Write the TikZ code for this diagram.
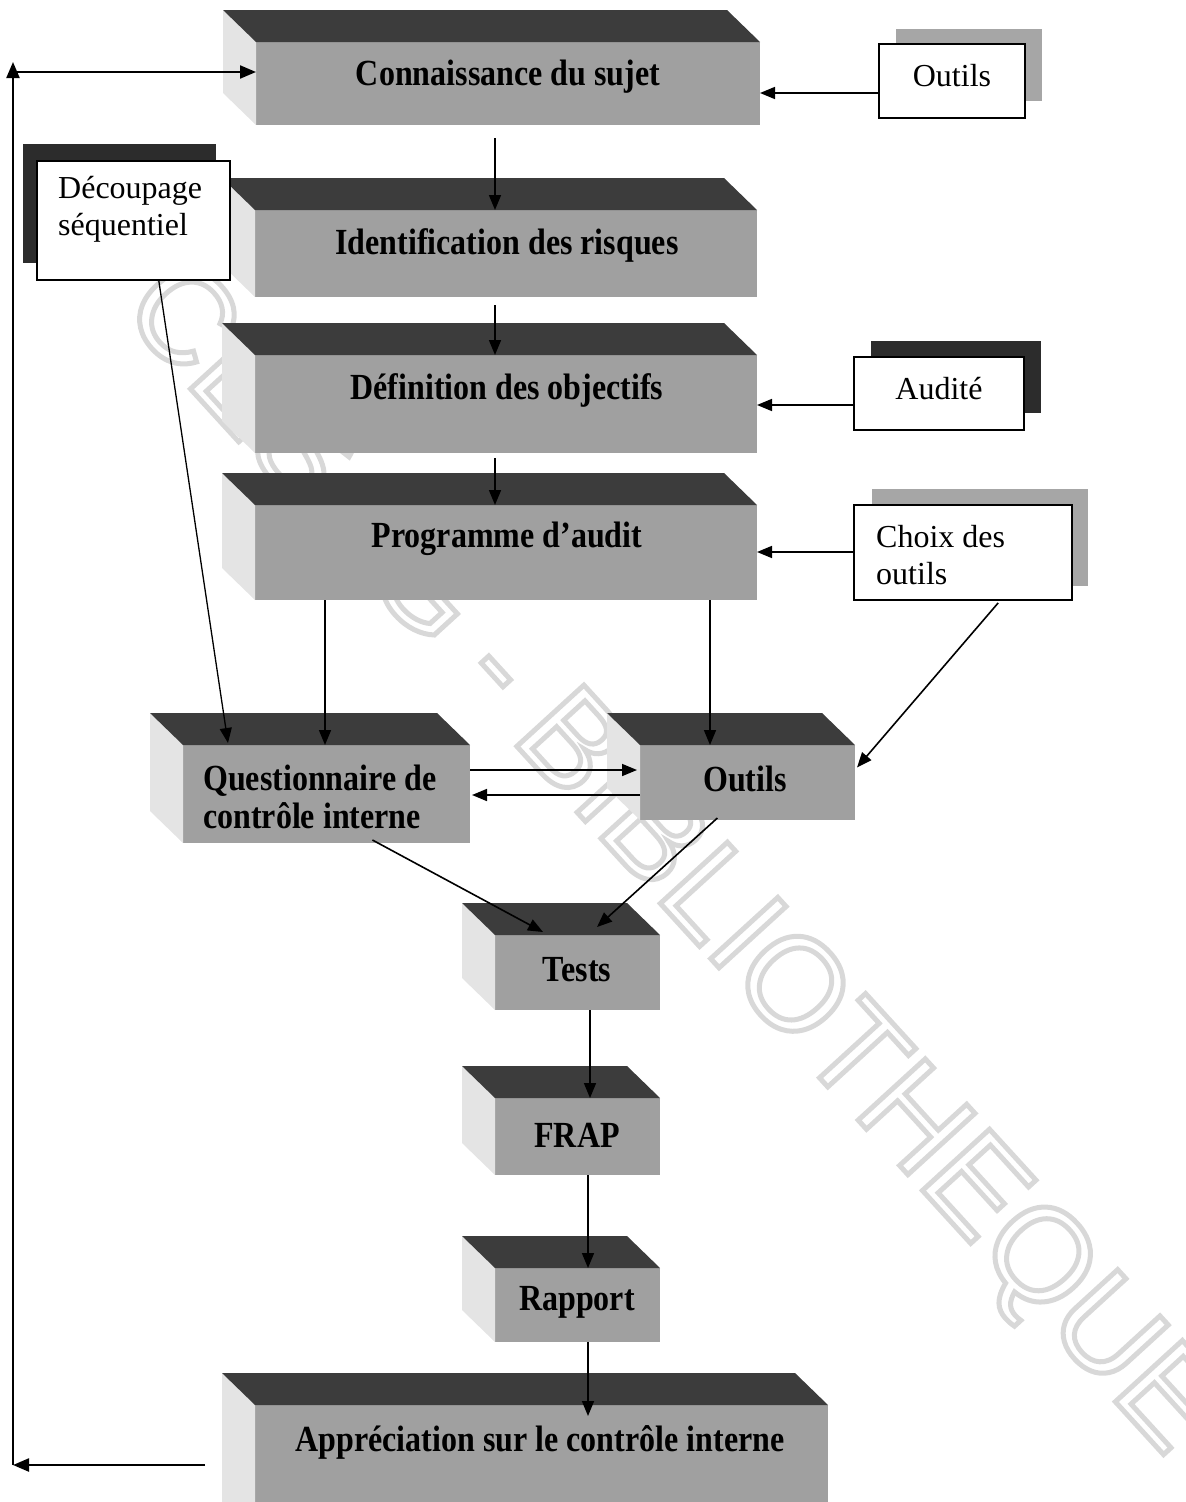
\documentclass[tikz,border=0pt]{standalone}
\usepackage{graphicx}
\usepackage{fontspec}
\setmainfont{Liberation Serif}
\newfontfamily\wmfont{Liberation Sans}
\usetikzlibrary{arrows.meta,calc}

\definecolor{frontgray}{HTML}{A0A0A0}
\definecolor{topgray}{HTML}{3C3C3C}
\definecolor{sidegray}{HTML}{E4E4E4}
\definecolor{lightshadow}{HTML}{A6A6A6}
\definecolor{darkshadow}{HTML}{2C2C2C}
\definecolor{wmgray}{HTML}{D8D8D8}

% bold block labels are set a little taller than wide
\newcommand\tall[1]{\scalebox{1}[1.15]{#1}}
% glyph outlines only (PDF text render mode 1)
\newcommand\outlined[1]{\special{pdf:code 1 Tr 5 w}#1\special{pdf:code 0 Tr}}

\tikzset{
  blockface/.style={fill=frontgray, draw=none, inner sep=0pt, outer sep=0pt},
  btxt/.style={font=\bfseries\fontsize{32}{38}\selectfont, inner sep=0pt, align=left},
  notebox/.style={fill=white, draw=black, line width=1.8pt, inner sep=0pt},
  ntxt/.style={font=\fontsize{32}{37}\selectfont, inner sep=0pt, align=left},
  conn/.style={line width=1.6pt, -{Triangle[length=15pt,width=12pt]}},
  fb/.style={line width=2.2pt, -{Triangle[length=16pt,width=13pt]}},
}

% extruded block: name, front-face corners (x1,y1) (x2,y2); y grows downwards
\newcommand\solidblock[5]{%
  \node[blockface, minimum width={(#4-#2)*1pt}, minimum height={(#5-#3)*1pt}]
    (#1) at ({(#2+#4)/2},{(#3+#5)/2}) {};
  \fill[sidegray] (#1.north west) -- ++(-33,-32)
    -- ($(#1.south west)+(-33,-32)$) -- (#1.south west) -- cycle;
  \fill[topgray] (#1.north west) -- ++(-33,-32)
    -- ($(#1.north east)+(-33,-32)$) -- (#1.north east) -- cycle;
}

\begin{document}
\begin{tikzpicture}[x=1pt,y=-1pt]
\useasboundingbox (0,0) rectangle (1186,1502);
\clip (0,0) rectangle (1186,1502);

% library stamp across the page
\node[rotate=-47.6, text=wmgray, font=\wmfont\fontsize{132}{132}\selectfont, inner sep=0pt]
  (stamp) at (668,862) {\outlined{CESAG - BIBLIOTHEQUE}};

% main chain of blocks
\solidblock{b1}{256}{42}{760}{125}
\node[btxt] (t1) at (508,77) {\tall{Connaissance du sujet}};
\solidblock{b2}{255}{210}{757}{297}
\node[btxt] (t2) at (507,245) {\tall{Identification des risques}};
\solidblock{b3}{255}{355}{757}{453}
\node[btxt] (t3) at (507,390) {\tall{Définition des objectifs}};
\solidblock{b4}{255}{505}{757}{600}
\node[btxt] (t4) at (507,539) {\tall{Programme d’audit}};
\solidblock{b5}{183}{745}{470}{843}
\node[btxt, anchor=west] (t5) at (203,797) {\tall{Questionnaire de}\\\tall{contrôle interne}};
\solidblock{b6}{640}{745}{855}{820}
\node[btxt] (t6) at (745,779) {\tall{Outils}};
\solidblock{b7}{495}{935}{660}{1010}
\node[btxt] (t7) at (577,970) {\tall{Tests}};
\solidblock{b8}{495}{1098}{660}{1175}
\node[btxt] (t8) at (577,1135) {\tall{FRAP}};
\solidblock{b9}{495}{1268}{660}{1342}
\node[btxt] (t9) at (577,1302) {\tall{Rapport}};
\solidblock{b10}{255}{1405}{828}{1540}
\node[btxt] (t10) at (540,1442) {\tall{Appréciation sur le contrôle interne}};

% side notes with their drop shadows
\fill[lightshadow] (896,29) rectangle (1042,101);
\node[notebox, minimum width=146pt, minimum height=74pt] (n1) at (952,81) {};
\node[ntxt] (n1t) at (952,76) {Outils};

\fill[darkshadow] (23,144) rectangle (216,263);
\node[notebox, minimum width=193pt, minimum height=119pt] (n2) at (133.5,220.5) {};
\node[ntxt, anchor=west] (n2t) at (58,209.5) {Découpage\\séquentiel};

\fill[darkshadow] (871,341) rectangle (1041,413);
\node[notebox, minimum width=170pt, minimum height=73pt] (n3) at (939,393.5) {};
\node[ntxt] (n3t) at (939,389) {Audité};

\fill[lightshadow] (872,489) rectangle (1088,586);
\node[notebox, minimum width=218pt, minimum height=95pt] (n4) at (963,552.5) {};
\node[ntxt, anchor=west] (n4t) at (876,555.5) {Choix des\\outils};

% helper coordinates for connector lanes
\coordinate (lane1) at (495,0);
\coordinate (laneL) at (325,0);
\coordinate (laneR) at (710,0);
\coordinate (laneB) at (590,0);
\coordinate (laneC) at (588,0);

% vertical flow
\draw[conn, shorten <=13pt] (b1.south -| lane1) -- (b2.north -| lane1);
\draw[conn, shorten <=8pt] (b2.south -| lane1) -- (b3.north -| lane1);
\draw[conn, shorten <=5pt] (b3.south -| lane1) -- (b4.north -| lane1);
\draw[conn] (b4.south -| laneL) -- (b5.north -| laneL);
\draw[conn] (b4.south -| laneR) -- (b6.north -| laneR);
\draw[conn] (b7.south -| laneB) -- (b8.north -| laneB);
\draw[conn] (b8.south -| laneC) -- (b9.north -| laneC);
\draw[conn, shorten >=-11pt] (b9.south -| laneC) -- (b10.north -| laneC);

% inputs from the side notes
\coordinate (y1) at (0,93);
\coordinate (y3) at (0,405);
\coordinate (y4) at (0,552);
\draw[conn] (n1.west |- y1) -- (b1.east |- y1);
\draw[conn] (n3.west |- y3) -- (b3.east |- y3);
\draw[conn] (n4.west |- y4) -- (b4.east |- y4);
\draw[conn, line width=1.3pt] ($(n2.south west)!0.63!(n2.south east)$) -- ($(b5.north west)+(45,-2)$);
\draw[conn] ($(n4.south west)!0.66!(n4.south east)+(0,2)$) -- ($(b6.east)+(2,-15)$);

% exchange between the questionnaire and the tools
\coordinate (ya) at (0,770);
\coordinate (yb) at (0,795);
\draw[conn] (b5.east |- ya) -- ($(b6.west |- ya)+(-3,0)$);
\draw[conn] (b6.west |- yb) -- ($(b5.east |- yb)+(2,0)$);

% both feed the tests
\draw[conn] ($(b5.south west)!0.66!(b5.south east)+(0,-3)$) -- ($(b7.north west)+(48,-3)$);
\draw[conn] ($(b6.south west)!0.36!(b6.south east)+(0,-2)$) -- ($(b7.north west)+(102,-8)$);

% feedback loop from the final appraisal back to the start
\coordinate (fbstart) at (205,1465);
\coordinate (fbcorner) at (13,1465);
\coordinate (fbtop) at (13,62);
\coordinate (fbturn) at (13,72);
\draw[fb] (fbstart) -- (fbcorner);
\draw[fb] (fbcorner) -- (fbtop);
\draw[fb] (fbturn) -- (b1.west |- fbturn);
\end{tikzpicture}
\end{document}
